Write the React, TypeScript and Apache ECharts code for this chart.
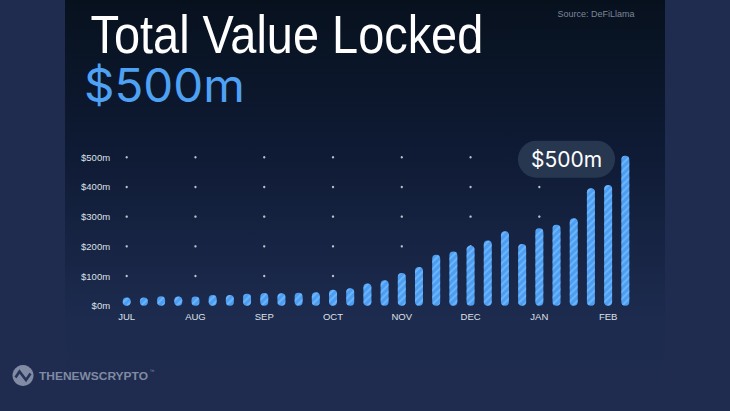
import React, { useEffect, useRef } from "react";
import * as echarts from "echarts";

const categories = [
  "W01", "W02", "W03", "W04", "W05", "W06", "W07", "W08", "W09", "W10",
  "W11", "W12", "W13", "W14", "W15", "W16", "W17", "W18", "W19", "W20",
  "W21", "W22", "W23", "W24", "W25", "W26", "W27", "W28", "W29", "W30",
];
const tvlValues = [
  28, 28, 32, 31, 31, 36, 36, 40, 43, 42, 44, 45, 54, 59, 75,
  86, 110, 130, 172, 183, 202, 220, 251, 208, 261, 273, 295, 396, 407, 505,
];
const monthLabels = ["JUL", "AUG", "SEP", "OCT", "NOV", "DEC", "JAN", "FEB"];
const monthIndices = [0, 4, 8, 12, 16, 20, 24, 28];
const dotLevels = [100, 200, 300, 400, 500];
const yTicks = [0, 100, 200, 300, 400, 500];
const titleText = "Total Value Locked";
const headlineValue = "$500m";
const bubbleText = "$500m";
const sourceText = "Source: DeFiLlama";
const brandText = "THENEWSCRYPTO";

function fitScale(text: string, font: string, target: number): number {
  try {
    const ctx = document.createElement("canvas").getContext("2d");
    if (!ctx) return 1;
    ctx.font = font;
    const w = ctx.measureText(text).width;
    return w > 0 ? target / w : 1;
  } catch (e) {
    return 1;
  }
}

export default function App() {
  const ref = useRef<HTMLDivElement>(null);

  useEffect(() => {
    if (!ref.current) return;
    const chart = echarts.init(ref.current, undefined, { renderer: "svg" });

    const titleScale = fitScale(titleText, "53px 'Liberation Sans'", 393);
    const valueScale = fitScale(headlineValue, "46px Inter", 161);
    const brandScale = fitScale(brandText, "bold 11.2px 'Liberation Sans'", 109);

    const dotData: number[][] = [];
    monthIndices.forEach((ci) => {
      dotLevels.forEach((lv) => dotData.push([ci, lv]));
    });

    const barData = tvlValues.map((v, i) =>
      i === tvlValues.length - 1
        ? {
            value: v,
            label: {
              show: true,
              formatter: bubbleText,
              position: [-54.8, 3.4],
              align: "center",
              verticalAlign: "middle",
              color: "#ffffff",
              fontFamily: "Inter",
              fontSize: 21,
              lineHeight: 21,
              backgroundColor: "#283750",
              borderRadius: 18.5,
              padding: [8, 13, 8, 13],
            },
          }
        : v
    );

    chart.setOption({
      animation: false,
      backgroundColor: "#1f2c50",
      grid: { left: 118.1, right: 96.1, top: 157.3, bottom: 105.3 },
      xAxis: {
        type: "category",
        data: categories,
        axisLine: { show: false },
        axisTick: { show: false },
        axisLabel: {
          interval: 3,
          margin: 5.5,
          color: "#dde1e8",
          fontSize: 9.5,
          fontFamily: "Liberation Sans",
          formatter: (_v: string, i: number) => monthLabels[Math.round(i / 4)] ?? "",
        },
      },
      yAxis: {
        type: "value",
        min: yTicks[0],
        max: yTicks[yTicks.length - 1],
        interval: 100,
        splitLine: { show: false },
        axisLine: { show: false },
        axisTick: { show: false },
        axisLabel: {
          margin: 8,
          color: "#dde1e8",
          fontSize: 9.5,
          fontFamily: "Liberation Sans",
          formatter: (v: number) => `$${v}m`,
        },
      },
      series: [
        {
          type: "scatter",
          data: dotData,
          symbol: "circle",
          symbolSize: 2.4,
          z: 1,
          silent: true,
          itemStyle: { color: "#e9edf4" },
        },
        {
          type: "bar",
          data: barData,
          barWidth: 8,
          clip: false,
          z: 3,
          itemStyle: {
            color: "#4b9ef3",
            borderRadius: 4,
            decal: {
              symbol: "rect",
              symbolSize: 1,
              dashArrayX: [1, 0],
              dashArrayY: [1.2, 2.2],
              rotation: -Math.PI / 4,
              color: "rgba(150,205,255,0.45)",
            },
          },
        },
      ],
      graphic: [
        {
          type: "rect",
          z: -10,
          silent: true,
          shape: { x: 65, y: 0, width: 600, height: 411 },
          style: {
            fill: new echarts.graphic.LinearGradient(0, 0, 0, 1, [
              { offset: 0, color: "#07111e" },
              { offset: 0.35, color: "#0e1a33" },
              { offset: 0.78, color: "#1d2b4f" },
              { offset: 1, color: "#1f2c50" },
            ]),
          },
        },
        {
          type: "text",
          z: 10,
          x: 90.5,
          y: 34.9,
          scaleX: titleScale,
          style: {
            text: titleText,
            fill: "#ffffff",
            font: "53px 'Liberation Sans'",
            verticalAlign: "middle",
            align: "left",
          },
        },
        {
          type: "text",
          z: 10,
          x: 84,
          y: 85,
          scaleX: valueScale,
          style: {
            text: headlineValue,
            fill: "#4ea1f3",
            font: "46px Inter",
            verticalAlign: "middle",
            align: "left",
          },
        },
        {
          type: "text",
          z: 10,
          x: 634.5,
          y: 14,
          style: {
            text: sourceText,
            fill: "#7c8699",
            font: "9px 'Liberation Sans'",
            verticalAlign: "middle",
            align: "right",
          },
        },
        {
          type: "circle",
          z: 10,
          shape: { cx: 23, cy: 375.5, r: 10.5 },
          style: { fill: "rgba(196,204,220,0.6)" },
        },
        {
          type: "polyline",
          z: 11,
          shape: {
            points: [
              [15.5, 377.5],
              [19.5, 371.5],
              [26, 380],
              [30.5, 373.5],
            ],
          },
          style: { stroke: "#25345a", lineWidth: 2.6, fill: null },
        },
        {
          type: "text",
          z: 10,
          x: 39,
          y: 376,
          scaleX: brandScale,
          style: {
            text: brandText,
            fill: "rgba(196,204,220,0.6)",
            font: "bold 11.2px 'Liberation Sans'",
            verticalAlign: "middle",
            align: "left",
          },
        },
        {
          type: "text",
          z: 10,
          x: 149.5,
          y: 371,
          style: {
            text: "™",
            fill: "rgba(196,204,220,0.6)",
            font: "5px 'Liberation Sans'",
            verticalAlign: "middle",
            align: "left",
          },
        },
      ],
    });

    return () => chart.dispose();
  }, []);

  return (
    <div
      ref={ref}
      style={{ position: "fixed", left: 0, top: 0, width: 730, height: 411 }}
    />
  );
}
